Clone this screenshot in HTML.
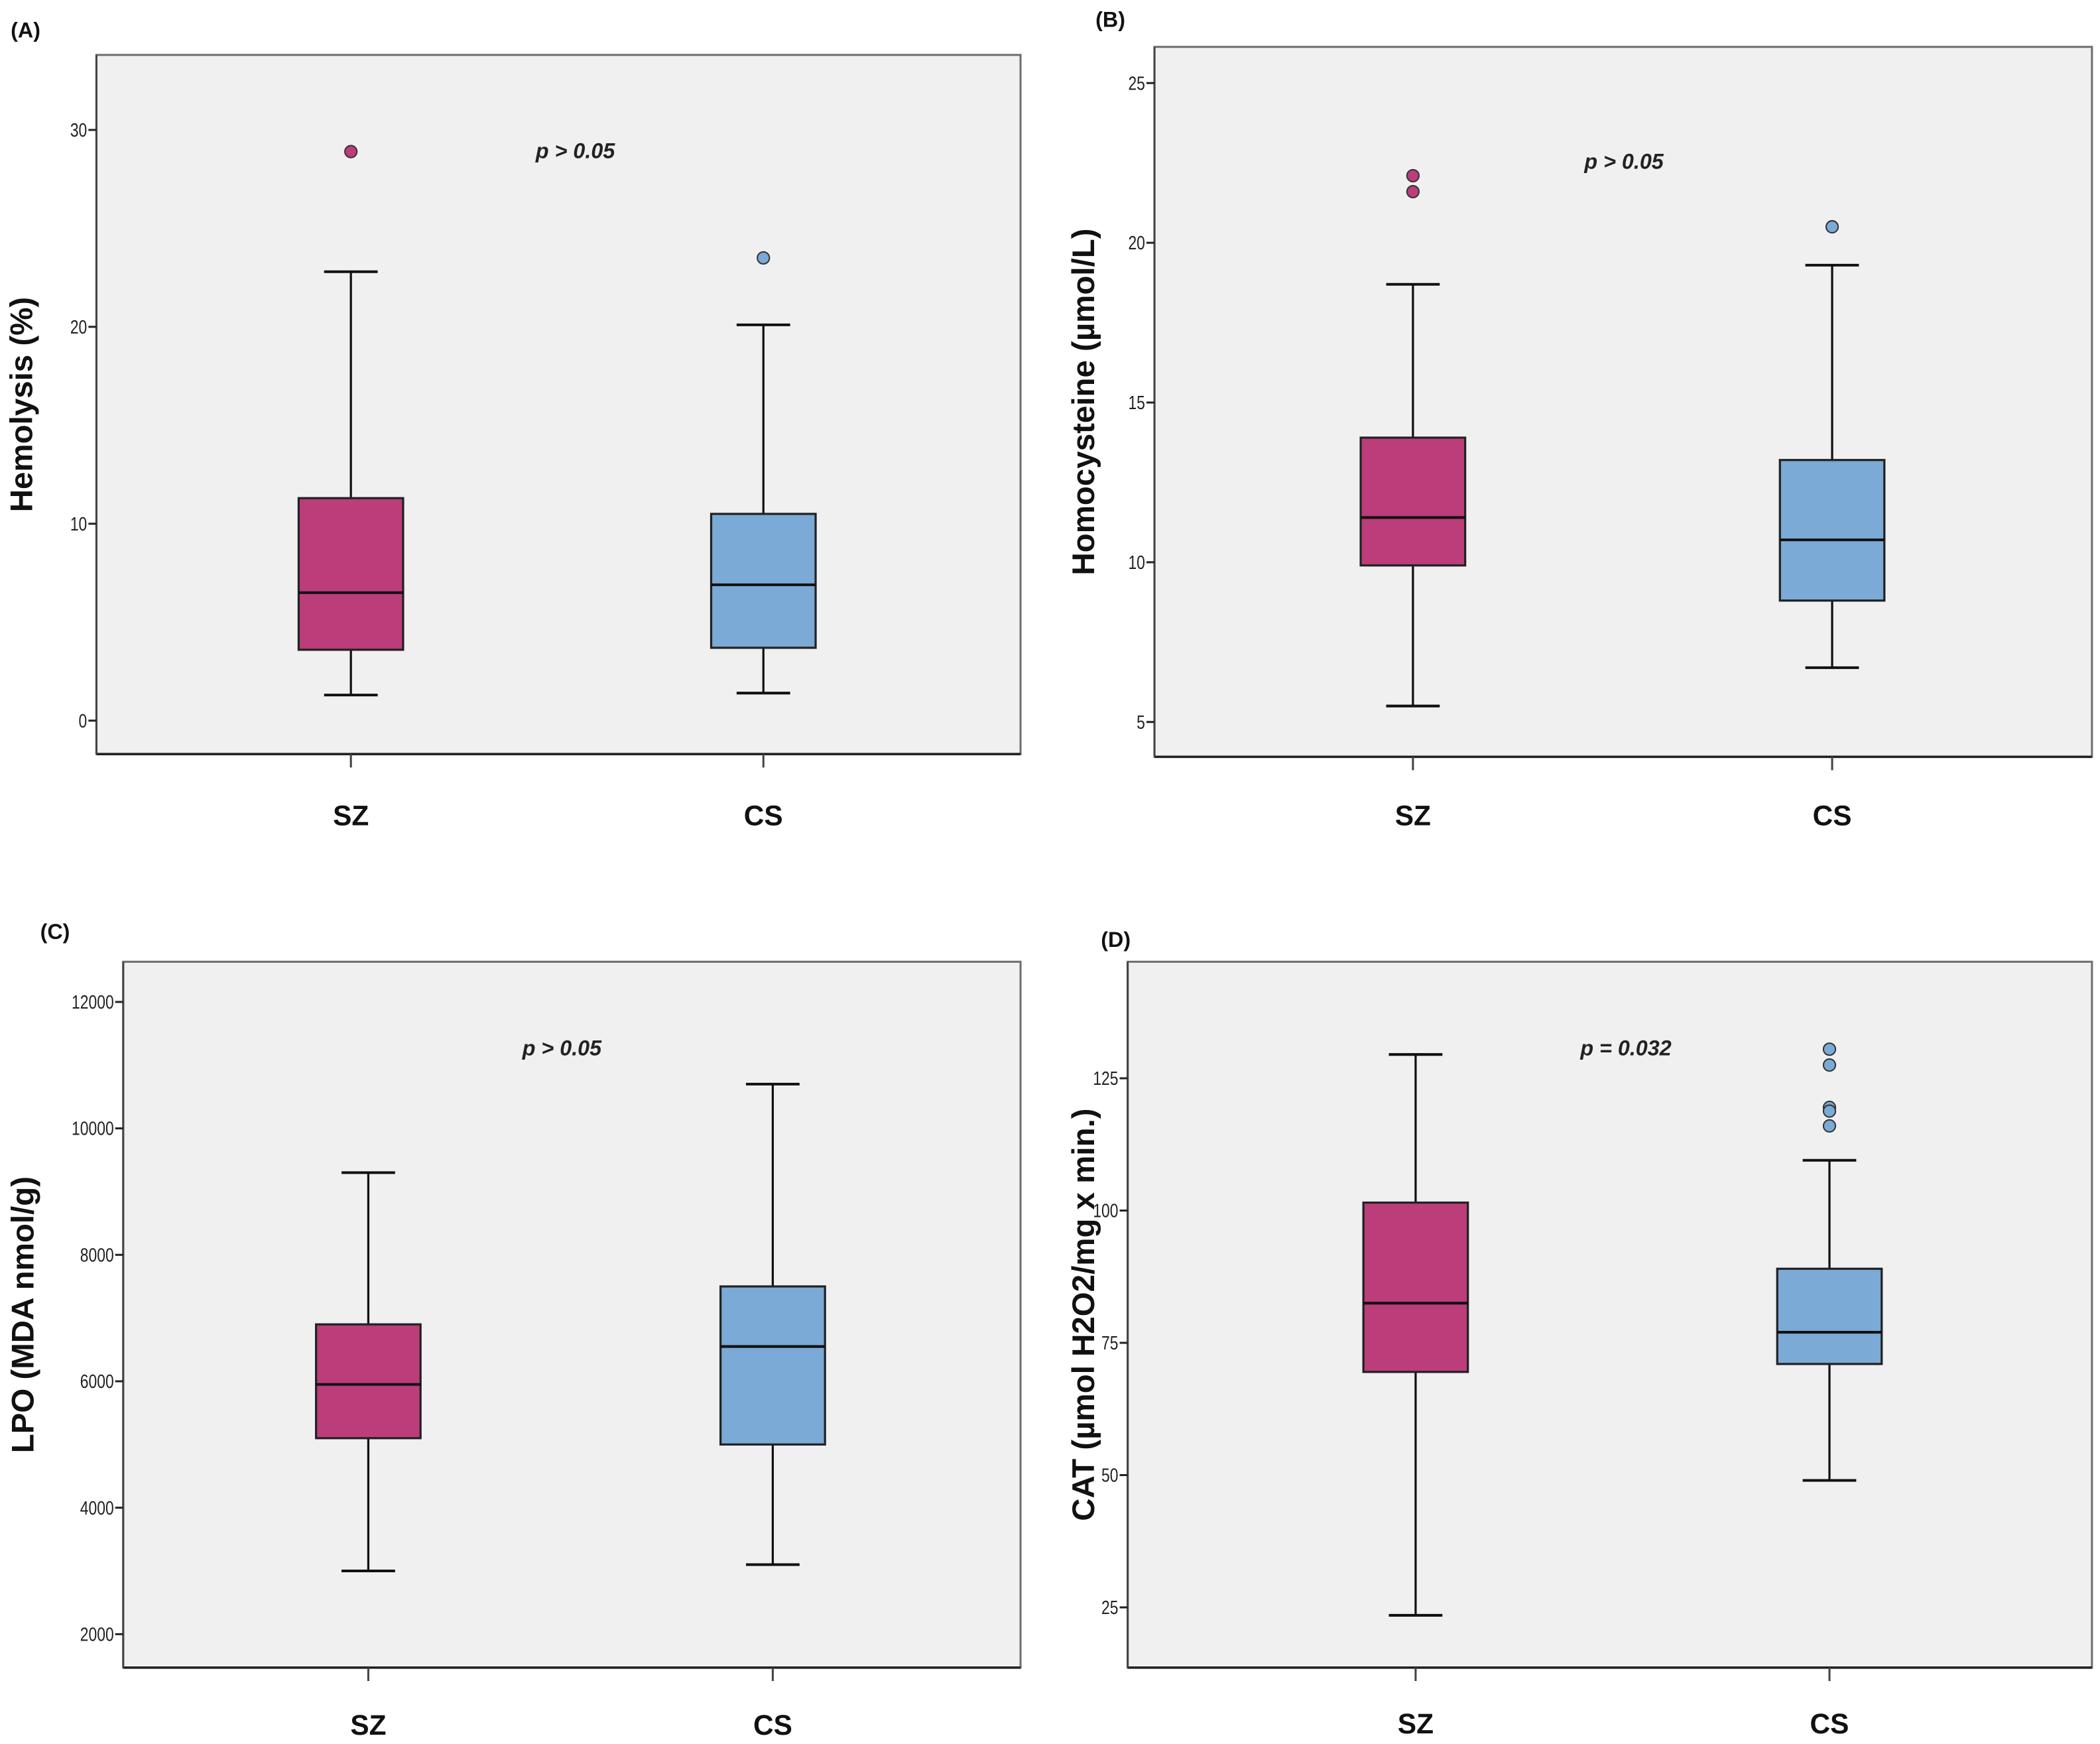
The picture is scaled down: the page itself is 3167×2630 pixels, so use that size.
<!DOCTYPE html>
<html><head><meta charset="utf-8"><style>
html,body{margin:0;padding:0;background:#fff;}
svg{display:block;}
text{font-family:"Liberation Sans",sans-serif;}
</style></head><body>
<svg id="fig" width="3167" height="2630" viewBox="0 0 1568 1302" preserveAspectRatio="none" xmlns="http://www.w3.org/2000/svg"></svg>
<script>
const categories = ["SZ","CS"];
const panelLabels = ["(A)","(B)","(C)","(D)"];
const yTitles = ["Hemolysis (%)","Homocysteine (µmol/L)","LPO (MDA nmol/g)","CAT (µmol H2O2/mg x min.)"];
const pTexts = ["p > 0.05","p > 0.05","p > 0.05","p = 0.032"];
const ticksA = [0,10,20,30];
const ticksB = [5,10,15,20,25];
const ticksC = [2000,4000,6000,8000,10000,12000];
const ticksD = [25,50,75,100,125];
// [whiskerLow, q1, median, q3, whiskerHigh]
const statsA_SZ = [1.3,3.6,6.5,11.3,22.8];
const statsA_CS = [1.4,3.7,6.9,10.5,20.1];
const statsB_SZ = [5.5,9.9,11.4,13.9,18.7];
const statsB_CS = [6.7,8.8,10.7,13.2,19.3];
const statsC_SZ = [3000,5100,5950,6900,9300];
const statsC_CS = [3100,5000,6550,7500,10700];
const statsD_SZ = [23.5,69.5,82.5,101.5,129.5];
const statsD_CS = [49,71,77,89,109.5];
const outA_SZ = [28.9], outA_CS = [23.5];
const outB_SZ = [22.1,21.6], outB_CS = [20.5];
const outC_SZ = [], outC_CS = [];
const outD_SZ = [], outD_CS = [130.5,127.5,119.5,118.8,116];

const NS="http://www.w3.org/2000/svg";
const svg=document.getElementById('fig');
function mk(tag,attrs,parent){const e=document.createElementNS(NS,tag);for(const k in attrs)e.setAttribute(k,attrs[k]);(parent||svg).appendChild(e);return e;}

const colors=["#bb3d7a","#7aaad5"];
const panels=[
 {rect:[72,41,762,563],ty:[[0,538],[30,97]],ticks:ticksA,stats:[statsA_SZ,statsA_CS],outs:[outA_SZ,outA_CS],xs:[262,570],lab:[8,28],ytx:24,p:[400,118],xl:616},
 {rect:[862,35,1562,565],ty:[[5,539],[25,62]],ticks:ticksB,stats:[statsB_SZ,statsB_CS],outs:[outB_SZ,outB_CS],xs:[1055,1368],lab:[818,20],ytx:817,p:[1183,126],xl:616},
 {rect:[92,718,762,1245],ty:[[2000,1220],[12000,748]],ticks:ticksC,stats:[statsC_SZ,statsC_CS],outs:[outC_SZ,outC_CS],xs:[275,577],lab:[30,701],ytx:25,p:[390,788],xl:1295},
 {rect:[842,718,1562,1245],ty:[[25,1200],[125,805]],ticks:ticksD,stats:[statsD_SZ,statsD_CS],outs:[outD_SZ,outD_CS],xs:[1057,1366],lab:[822,707],ytx:817,p:[1180,788],xl:1294}
];
panels.forEach((P,i)=>{
 const g=mk('g',{});
 
 
 const [x0,y0,x1,y1]=P.rect;
 const [v0,p0]=P.ty[0],[v1,p1]=P.ty[1];
 const y=v=>p0+(v-v0)*(p1-p0)/(v1-v0);
 const bg=mk('rect',{x:x0,y:y0,width:x1-x0,height:y1-y0,fill:'#f0f0f0',stroke:'#6e6e6e','stroke-width':1.5},g);
 
 mk('line',{x1:x0,y1:y1,x2:x1,y2:y1,stroke:'#222','stroke-width':1.8},g);
 mk('line',{x1:x0,y1:y0,x2:x0,y2:y1,stroke:'#444','stroke-width':1.5},g);
 P.ticks.forEach(t=>{
  mk('line',{x1:x0-6,y1:y(t),x2:x0,y2:y(t),stroke:'#222','stroke-width':1.5},g);
  const s=String(t);
  const tx=mk('text',{x:x0-7,y:y(t)+5,'text-anchor':'end','font-size':14,fill:'#222',textLength:s.length*6.3,lengthAdjust:'spacingAndGlyphs'},g);
  tx.textContent=s;
  
 });
 const lab=mk('text',{x:P.lab[0],y:P.lab[1],'font-size':16,'font-weight':'bold',fill:'#111'},g);
 lab.textContent=panelLabels[i];
 const cy=(y0+y1)/2;
 const yt=mk('text',{x:P.ytx,y:cy,transform:`rotate(-90 ${P.ytx} ${cy})`,'text-anchor':'middle','font-size':23.5,'font-weight':'bold',fill:'#111'},g);
 yt.textContent=yTitles[i];
 const pt=mk('text',{x:P.p[0],y:P.p[1],'font-size':16,'font-weight':'bold','font-style':'italic',fill:'#222'},g);
 pt.textContent=pTexts[i];
 categories.forEach((c,j)=>{
  const cx=P.xs[j],s=P.stats[j],bw=39,cw=20;
  mk('line',{x1:cx,y1:y1,x2:cx,y2:y1+10,stroke:'#444','stroke-width':1.5},g);
  const xl=mk('text',{x:cx,y:P.xl,'text-anchor':'middle','font-size':21,'font-weight':'bold',fill:'#111'},g);
  xl.textContent=c;
  mk('line',{x1:cx,y1:y(s[0]),x2:cx,y2:y(s[4]),stroke:'#111','stroke-width':1.6},g);
  mk('line',{x1:cx-cw,y1:y(s[0]),x2:cx+cw,y2:y(s[0]),stroke:'#111','stroke-width':2},g);
  mk('line',{x1:cx-cw,y1:y(s[4]),x2:cx+cw,y2:y(s[4]),stroke:'#111','stroke-width':2},g);
  const box=mk('rect',{x:cx-bw,y:y(s[3]),width:2*bw,height:y(s[1])-y(s[3]),fill:colors[j],stroke:'#222','stroke-width':1.6},g);
  
  mk('line',{x1:cx-bw,y1:y(s[2]),x2:cx+bw,y2:y(s[2]),stroke:'#111','stroke-width':2},g);
  P.outs[j].forEach(o=>{
   const d=mk('circle',{cx:cx,cy:y(o),r:4.5,fill:colors[j],stroke:'#333','stroke-width':1},g);
   
  });
 });
});
</script>
</body></html>
